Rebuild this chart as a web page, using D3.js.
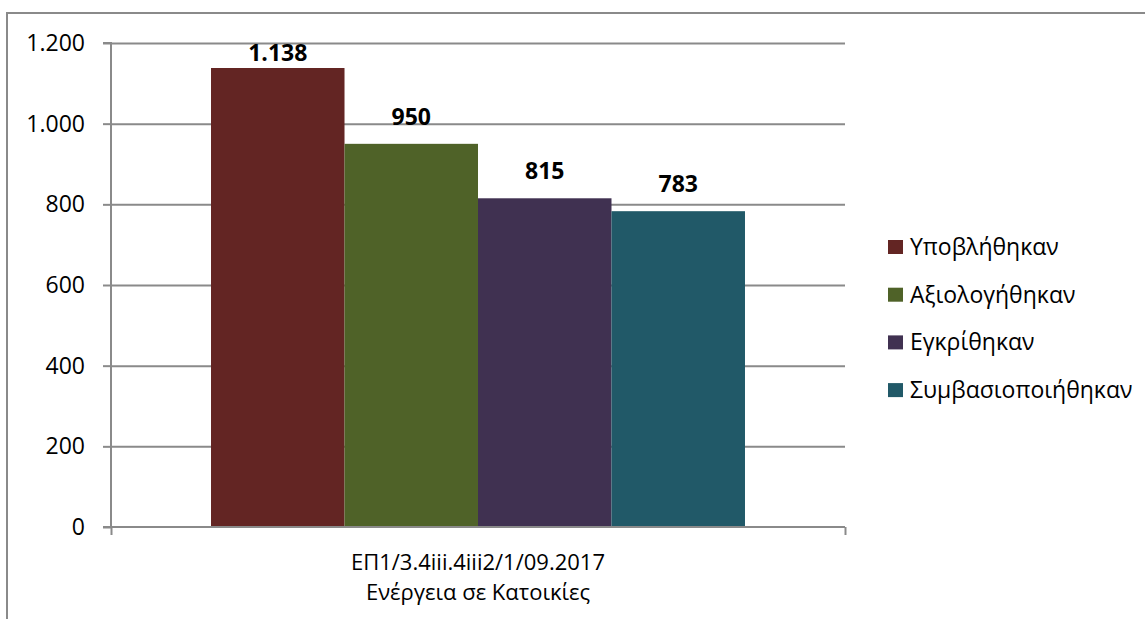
<!DOCTYPE html>
<html><head><meta charset="utf-8">
<script src="https://cdn.jsdelivr.net/npm/d3@7"></script>
<style>
html,body{margin:0;padding:0;background:#fff;}
svg{display:block;font-family:"Open Sans",sans-serif;}
</style></head>
<body><svg id="c" width="1145" height="619"></svg>
<script>
const categories = ["ΕΠ1/3.4iii.4iii2/1/09.2017|Ενέργεια σε Κατοικίες"];
const seriesNames = ["Υποβλήθηκαν", "Αξιολογήθηκαν", "Εγκρίθηκαν", "Συμβασιοποιήθηκαν"];
const seriesValues = [1138, 950, 815, 783];
const seriesColors = ["#632523", "#4f6228", "#403151", "#215968"];
const yTicks = [0, 200, 400, 600, 800, 1000, 1200];

const svg = d3.select("#c");
const W = 1145, H = 619;
const plot = {left: 111, right: 845, top: 43, bottom: 527};
const fs = 23;
const grid = "#8a8a8a";

const loc = d3.formatLocale({decimal: ",", thousands: ".", grouping: [3], currency: ["", "€"]});
const fmt = loc.format(",d");

// outer border (clipped chart frame)
svg.append("path").attr("d", `M7,${H} V13 H${W}`).attr("fill", "none").attr("stroke", grid).attr("stroke-width", 2);

const y = d3.scaleLinear().domain([0, 1200]).range([plot.bottom, plot.top]);
const x0 = d3.scaleBand().domain(categories).range([plot.left, plot.right]).paddingInner(0).paddingOuter(0.1873);
const x1 = d3.scaleBand().domain(seriesNames).range([0, x0.bandwidth()]).padding(0);

// gridlines
const gGrid = svg.append("g").attr("transform", `translate(${plot.left},0)`)
  .call(d3.axisLeft(y).tickValues(yTicks.filter(d => d > 0)).tickSize(-(plot.right - plot.left)).tickFormat(""));
gGrid.select(".domain").remove();
gGrid.selectAll("line").attr("stroke", grid).attr("stroke-width", 2);

// bars
const cat = categories[0];
svg.append("g").selectAll("rect").data(seriesNames).join("rect")
  .attr("x", (d) => x0(cat) + x1(d))
  .attr("width", x1.bandwidth())
  .attr("y", (d, i) => y(seriesValues[i]))
  .attr("height", (d, i) => y(0) - y(seriesValues[i]))
  .attr("fill", (d, i) => seriesColors[i]);

// y axis
const gy = svg.append("g").attr("transform", `translate(${plot.left},0)`)
  .call(d3.axisLeft(y).tickValues(yTicks).tickSize(8).tickPadding(18).tickFormat(fmt));
gy.select(".domain").attr("stroke", grid).attr("stroke-width", 2).attr("d", `M-8,${plot.top}H0V${plot.bottom}H-8`);
gy.selectAll("line").attr("stroke", grid).attr("stroke-width", 2);
gy.selectAll("text").attr("font-size", fs).attr("font-family", "Open Sans").attr("fill", "#000");

// x axis
const xe = d3.scaleLinear().domain([0, 1]).range([plot.left, plot.right]);
const gx = svg.append("g").attr("transform", `translate(0,${plot.bottom})`)
  .call(d3.axisBottom(xe).tickValues([0, 1]).tickSize(8).tickFormat(""));
gx.select(".domain").attr("stroke", grid).attr("stroke-width", 2).attr("d", `M${plot.left},0H${plot.right}`);
gx.selectAll("line").attr("stroke", grid).attr("stroke-width", 2);

// category label
const lines = cat.split("|");
const cx = x0(cat) + x0.bandwidth() / 2;
lines.forEach((l, i) => svg.append("text").attr("text-anchor", "middle").attr("font-size", 22).attr("fill", "#000")
  .attr("x", cx).attr("y", 570 + i * 30).text(l));

// data labels
svg.append("g").selectAll("text").data(seriesNames).join("text")
  .attr("x", d => x0(cat) + x1(d) + x1.bandwidth() / 2)
  .attr("y", (d, i) => Math.max(y(seriesValues[i]) - 19, plot.top + 18))
  .attr("text-anchor", "middle").attr("font-size", fs).attr("font-weight", "bold").attr("fill", "#000")
  .text((d, i) => fmt(seriesValues[i]));

// legend
const lg = svg.append("g").attr("transform", "translate(888,240)");
const items = lg.selectAll("g").data(seriesNames).join("g").attr("transform", (d, i) => `translate(0,${i * 47.7})`);
items.append("rect").attr("width", 15).attr("height", 14).attr("fill", (d, i) => seriesColors[i]);
items.append("text").attr("x", 22).attr("y", 15).attr("font-size", fs).attr("fill", "#000").text(d => d);
</script></body></html>
